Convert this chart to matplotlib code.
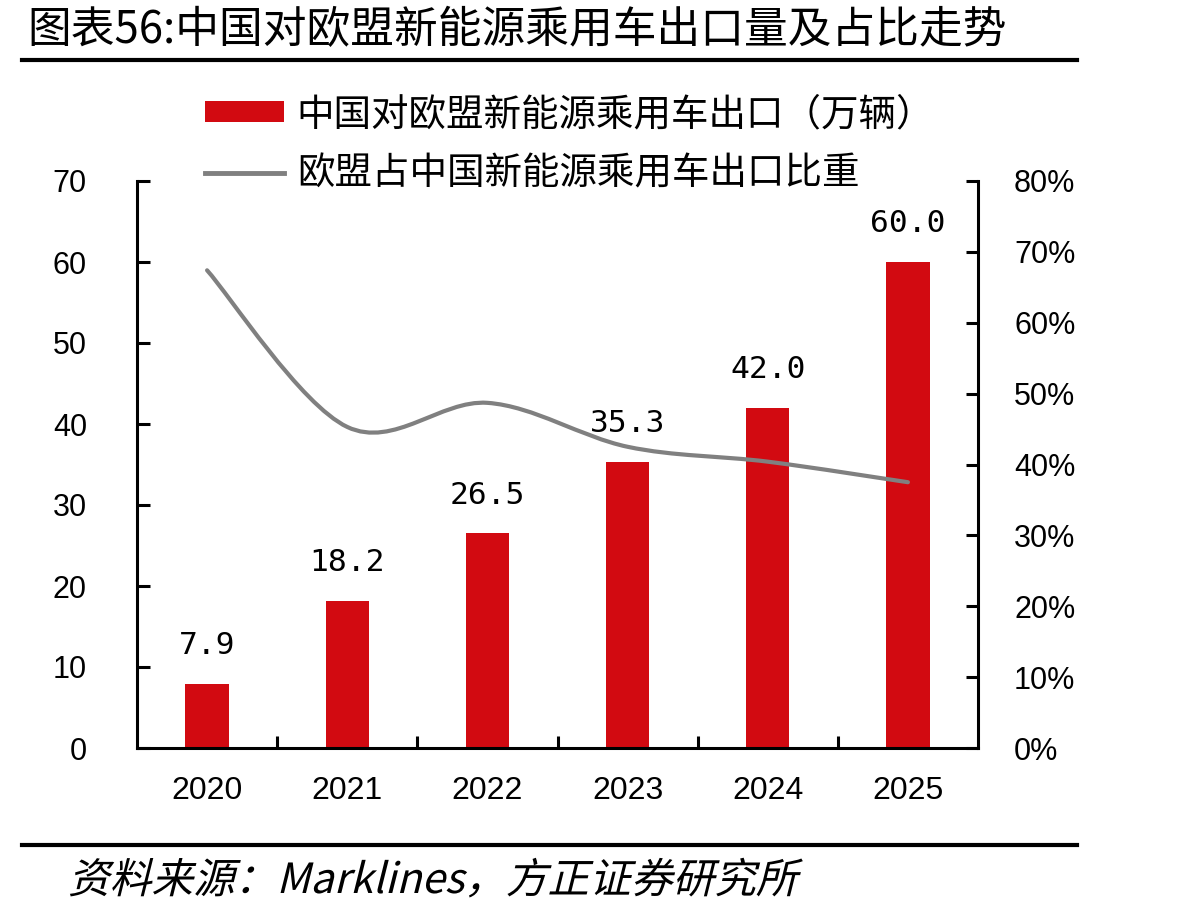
import matplotlib
matplotlib.use("Agg")
import matplotlib.pyplot as plt
from matplotlib.path import Path
from matplotlib.patches import PathPatch
from matplotlib.lines import Line2D
from matplotlib.textpath import TextPath
from matplotlib.font_manager import FontProperties
from matplotlib.transforms import Affine2D
from matplotlib.ticker import FuncFormatter

years = ["2020", "2021", "2022", "2023", "2024", "2025"]
export_volume = [7.9, 18.2, 26.5, 35.3, 42.0, 60.0]  # 万辆
eu_share = [0.674, 0.453, 0.487, 0.425, 0.404, 0.375]

bar_label = "中国对欧盟新能源乘用车出口（万辆）"
line_label = "欧盟占中国新能源乘用车出口比重"
title = "图表56:中国对欧盟新能源乘用车出口量及占比走势"
source = "资料来源：Marklines，方正证券研究所"

red = "#D20A11"
grey = "#808080"
cjk = "Noto Sans CJK SC"

plt.rcParams["font.family"] = ["Liberation Sans", "DejaVu Sans"]

W, H = 1203, 915
fig = plt.figure(figsize=(W / 100, H / 100), dpi=100)
ax = fig.add_axes([137 / W, 1 - 748 / H, (978 - 137) / W, (748 - 181) / H])
ax2 = ax.twinx()

x = list(range(len(years)))
bars = ax.bar(x, export_volume, width=0.31, color=red, zorder=2)
for xi, v in zip(x, export_volume):
    ax.annotate(f"{v:.1f}", (xi, v), xytext=(0, 17), textcoords="offset points",
                ha="center", va="bottom", fontsize=22.5, family="DejaVu Sans Mono")

ax.set_xlim(-0.5, len(years) - 0.5)
ax.set_ylim(0, 70)
ax.set_yticks(range(0, 71, 10))
ax.set_xticks([i + 0.5 for i in range(len(years) - 1)])
ax.set_xticklabels([])
ax.set_xticks(x, years, minor=True)
ax.tick_params(axis="x", which="major", direction="in", length=9, width=2.2)
ax.tick_params(axis="x", which="minor", length=0, pad=20, labelsize=23)
ax.tick_params(axis="y", direction="in", length=9, width=2.2, pad=36, labelsize=22)

ax2.set_ylim(0, 0.8)
ax2.set_yticks([i / 10 for i in range(9)])
ax2.yaxis.set_major_formatter(FuncFormatter(lambda v, p: f"{v:.0%}"))
ax2.tick_params(axis="y", direction="in", length=9, width=2.2, pad=26, labelsize=22)

for a in (ax, ax2):
    for s in a.spines.values():
        s.set_linewidth(2.2)
    a.spines["top"].set_visible(False)
ax.spines["right"].set_visible(False)
ax2.spines["left"].set_visible(False)
ax2.spines["bottom"].set_visible(False)

# smoothed line like Excel: bezier through the points
pts = list(zip(x, eu_share))
verts = [pts[0]]
codes = [Path.MOVETO]
n = len(pts)
for i in range(n - 1):
    p0 = pts[max(i - 1, 0)]
    p1 = pts[i]
    p2 = pts[i + 1]
    p3 = pts[min(i + 2, n - 1)]
    c1 = (p1[0] + (p2[0] - p0[0]) / 6, p1[1] + (p2[1] - p0[1]) / 6)
    c2 = (p2[0] - (p3[0] - p1[0]) / 6, p2[1] - (p3[1] - p1[1]) / 6)
    verts += [c1, c2, p2]
    codes += [Path.CURVE4] * 3
ax2.add_patch(PathPatch(Path(verts, codes), fill=False, edgecolor=grey,
                        lw=3, capstyle="round", zorder=3))

handles = [bars, Line2D([], [], color=grey, lw=3.5)]
fig.legend(handles, [bar_label, line_label], loc="upper left",
           bbox_to_anchor=(205 / W, 1 - 95 / H), frameon=False,
           prop=FontProperties(family=cjk, size=27), handlelength=2.1,
           handleheight=0.5, handletextpad=0.35, labelspacing=0.55,
           borderpad=0, borderaxespad=0)

# title and rules
fig.text(27 / W, 1 - 30 / H, title, family=cjk, fontsize=31.5, va="center", ha="left")
fig.add_artist(Line2D([22 / W, 1077 / W], [1 - 60 / H, 1 - 60 / H], color="black", lw=3))
fig.add_artist(Line2D([22 / W, 1077 / W], [1 - 845 / H, 1 - 845 / H], color="black", lw=3))

# italic source line
tp = TextPath((0, 0), source, size=30, prop=FontProperties(family=cjk))
tr = Affine2D().skew_deg(14, 0).scale(1 / 72).translate(68 / 100, (H - 893) / 100) + fig.dpi_scale_trans
fig.add_artist(PathPatch(tp, transform=tr, color="black", lw=0))

fig.savefig("out.png", dpi=100)
